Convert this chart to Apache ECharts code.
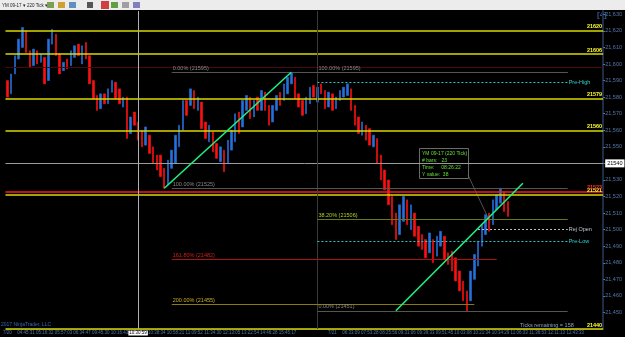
<!DOCTYPE html>
<html>
<head>
<meta charset="utf-8">
<script src="https://cdn.jsdelivr.net/npm/echarts/dist/echarts.min.js"></script>
<style>
  html, body { margin: 0; padding: 0; background: #000; }
  #chart { width: 625px; height: 337px; }
</style>
</head>
<body>
<div id="chart"></div>
<script>
// YM 09-17 (220 Tick) - bar opens / closes
const opens = [
  21590, 21582, 21594, 21603, 21610, 21620, 21608, 21599, 21608, 21601,
  21604, 21590, 21612, 21618, 21606, 21596, 21603, 21599, 21604, 21612,
  21600, 21613, 21605, 21590, 21581, 21573, 21582, 21576, 21583, 21589,
  21585, 21574, 21580, 21558, 21571, 21565, 21560, 21551, 21557, 21550,
  21545, 21545, 21537, 21527, 21537, 21540, 21550, 21560, 21578, 21575,
  21584, 21572, 21577, 21565, 21553, 21559, 21552, 21541, 21548, 21540,
  21548, 21553, 21571, 21562, 21572, 21580, 21568, 21580, 21572, 21583,
  21575, 21565, 21572, 21583, 21578, 21582, 21588, 21592, 21582, 21578,
  21570, 21576, 21587, 21577, 21588, 21584, 21574, 21582, 21573, 21578,
  21580, 21581, 21585, 21575, 21568, 21557, 21563, 21561, 21550, 21555,
  21545, 21536, 21530, 21520, 21510, 21497, 21505, 21518, 21500, 21510,
  21502, 21497, 21494, 21486, 21494, 21484, 21490, 21496, 21486, 21487,
  21483, 21475, 21469, 21463, 21457, 21470, 21478, 21490, 21497, 21510,
  21503, 21512, 21516, 21523, 21517
];
const closes = [
  21580, 21594, 21605, 21615, 21622, 21607, 21598, 21609, 21600, 21606,
  21588, 21615, 21621, 21605, 21594, 21601, 21597, 21608, 21611, 21605,
  21611, 21603, 21588, 21579, 21572, 21582, 21576, 21585, 21590, 21579,
  21576, 21580, 21555, 21568, 21563, 21554, 21550, 21562, 21546, 21540,
  21536, 21532, 21525, 21542, 21548, 21557, 21563, 21578, 21569, 21585,
  21573, 21580, 21561, 21555, 21563, 21547, 21543, 21550, 21535, 21554,
  21560, 21570, 21558, 21578, 21581, 21567, 21578, 21572, 21584, 21572,
  21563, 21575, 21581, 21575, 21588, 21592, 21595, 21579, 21574, 21569,
  21580, 21586, 21580, 21586, 21582, 21573, 21583, 21572, 21580, 21584,
  21586, 21588, 21572, 21563, 21558, 21565, 21554, 21551, 21557, 21540,
  21530, 21524, 21515, 21503, 21494, 21515, 21520, 21503, 21515, 21496,
  21490, 21488, 21483, 21498, 21480, 21496, 21499, 21482, 21479, 21475,
  21469, 21463, 21457, 21451, 21475, 21485, 21493, 21503, 21509, 21499,
  21518, 21521, 21525, 21511, 21508
];
// time axis labels: first session every LABEL_STEP bars from bar 0,
// second session every LABEL_STEP bars from the date label
const tickLabels = [
  '7/20', '04:45:31', '05:16:32', '05:57:03', '06:34:47', '09:45:30', '10:16:43',
  '10:30:59', '10:38:34', '10:58:21', '11:09:52', '11:34:30', '12:13:05',
  '13:22:54', '14:46:28', '15:45:17', '7/21', '06:33:09', '07:53:28',
  '08:25:56', '09:31:06', '09:39:33', '09:51:45', '10:03:08', '10:21:34',
  '10:34:29', '11:06:33', '11:36:53', '12:11:13', '12:43:33'
];
const SLOTS = 160;
const LABEL_STEP = 5;
const dateLabelIndex = 16;
const dateLabelBar = 87;
const crosshairBar = 35;
const sessionBar = 83;

// horizontal price levels
const yellowLevels = [21620, 21606, 21579, 21560, 21521, 21440];
const redLevel = 21523;
const darkRedLevel = 21598;
const grayLevel = 21540;
const axisMarker = 21505;

// fibonacci drawings: [label, price]
const fibA = [['0.00%', 21595], ['100.00%', 21525], ['161.80%', 21482], ['200.00%', 21455]];
const fibAStart = 44;
const fibB = [['100.00%', 21595], ['38.20%', 21506], ['0.00%', 21451]];
const fibBStart = 83;
const fibEnd = 150;
const preHigh = 21589, preLow = 21493, rejOpen = 21500;

// trend lines [barIndex, price]
const trend1 = [[42, 21525], [76, 21595]];
const trend2 = [[104, 21451], [138, 21528]];

const categories = new Array(SLOTS).fill('');
tickLabels.forEach((t, k) => {
  const bar = k < dateLabelIndex ? k * LABEL_STEP : dateLabelBar + (k - dateLabelIndex) * LABEL_STEP;
  if (bar < SLOTS) categories[bar] = t;
});
const bars = opens.map((o, i) => {
  const c = closes[i];
  return [o, c, Math.min(o, c), Math.max(o, c)];
});

const FONT = 'Liberation Sans';
const tiny = { fontFamily: FONT, fontSize: 5.5 };

const lines = [];
yellowLevels.forEach(v => lines.push({
  yAxis: v,
  lineStyle: { color: '#d9d900', width: 1.6, type: 'solid' },
  label: { show: true, position: 'insideEndTop', formatter: String(v), color: '#ffff33', fontWeight: 'bold', distance: 1, ...tiny }
}));
lines.push({
  yAxis: redLevel,
  lineStyle: { color: '#ff1a1a', width: 1.6, type: 'solid' },
  label: { show: true, position: 'insideEndTop', formatter: String(redLevel), color: '#ff3030', fontWeight: 'bold', distance: 1, ...tiny }
});
lines.push({ yAxis: darkRedLevel, lineStyle: { color: '#4a0808', width: 1, type: 'solid' }, label: { show: false } });
lines.push({
  yAxis: grayLevel,
  lineStyle: { color: '#9a9a9a', width: 1, type: 'solid' },
  label: { show: true, position: 'end', formatter: String(grayLevel), color: '#000', backgroundColor: '#ffffff', padding: [1, 2], distance: 2, ...tiny }
});
lines.push({
  yAxis: axisMarker,
  lineStyle: { opacity: 0 },
  label: { show: true, position: 'end', formatter: String(axisMarker), color: '#000', backgroundColor: '#f0a020', padding: [1, 2], distance: 2, ...tiny }
});
lines.push({ xAxis: crosshairBar, lineStyle: { color: '#b0b0b0', width: 1, type: 'solid' }, label: { show: false } });
lines.push({ xAxis: sessionBar, lineStyle: { color: '#3a3a3a', width: 1, type: 'solid' }, label: { show: false } });

function seg(x0, x1, v, style, text, labelColor, pos) {
  lines.push([
    {
      coord: [x0, v], lineStyle: style,
      label: text ? { show: true, position: pos || 'insideStartTop', formatter: text, color: labelColor, distance: 1, ...tiny } : { show: false }
    },
    { coord: [x1, v] }
  ]);
}
const fibColorsA = ['#555555', '#555555', '#b01010', '#8a7a10'];
const fibLabelA = ['#888888', '#888888', '#d02020', '#c8b020'];
fibA.forEach(([t, v], k) => {
  const end = k === 2 ? 131 : (k === 3 ? 125 : fibEnd);
  seg(fibAStart, end, v, { color: fibColorsA[k], width: 1.2, type: 'solid' }, t + ' (' + v + ')', fibLabelA[k]);
});
const fibColorsB = ['#555555', '#6a7a10', '#555555'];
const fibLabelB = ['#888888', '#b0d020', '#888888'];
fibB.forEach(([t, v], k) => {
  seg(fibBStart, fibEnd, v, { color: fibColorsB[k], width: 1.2, type: 'solid' }, t + ' (' + v + ')', fibLabelB[k]);
});
seg(fibBStart, fibEnd, preHigh, { color: '#20c8c8', width: 1, type: [2, 2] }, 'Pre-High', '#30d0d0', 'end');
seg(fibBStart, fibEnd, preLow, { color: '#20c8c8', width: 1, type: [2, 2] }, 'Pre-Low', '#30d0d0', 'end');
seg(126, fibEnd, rejOpen, { color: '#c0c0c0', width: 1, type: [2, 2] }, 'Rej Open', '#c0c8d0', 'end');

[trend1, trend2].forEach(t => lines.push([
  { coord: t[0], lineStyle: { color: '#20f080', width: 1.6, type: 'solid' }, label: { show: false } },
  { coord: t[1] }
]));

const chart = echarts.init(document.getElementById('chart'));
chart.setOption({
  animation: false,
  backgroundColor: '#000',
  grid: { left: 0, right: 18, top: 11, bottom: 8 },
  xAxis: {
    type: 'category',
    data: categories,
    boundaryGap: true,
    axisLine: { show: true, lineStyle: { color: '#1e2c44' } },
    axisTick: { show: false },
    axisLabel: {
      interval: 0, margin: 1.5, color: '#5577aa', fontFamily: FONT, fontSize: 4.5,
      formatter: (v) => v === tickLabels[7] ? '{hl|' + v + '}' : v,
      rich: { hl: { backgroundColor: '#ffffff', color: '#000', padding: [0, 1], fontFamily: FONT, fontSize: 4.5 } }
    },
    splitLine: { show: false }
  },
  yAxis: {
    type: 'value',
    position: 'right',
    min: 21440,
    max: 21632,
    interval: 10,
    axisLine: { show: true, lineStyle: { color: '#1e2c44', width: 2 } },
    axisTick: { show: true, length: 2, lineStyle: { color: '#5577aa' } },
    axisLabel: { color: '#5577aa', margin: 2, showMinLabel: false, showMaxLabel: false, ...tiny },
    splitLine: { show: false }
  },
  series: [{
    type: 'candlestick',
    data: bars,
    barWidth: 2,
    itemStyle: { color: '#2470dc', color0: '#ff1010', borderColor: '#2470dc', borderColor0: '#ff1010', borderWidth: 0.6 },
    markLine: { silent: true, symbol: ['none', 'none'], animation: false, data: lines }
  }],
  graphic: [
    // toolbar
    { type: 'rect', left: 0, top: 0, shape: { width: 625, height: 10 }, style: { fill: '#ececec' } },
    { type: 'text', left: 2, top: 3, style: { text: 'YM 09-17 ▾ 220 Tick ▾', fill: '#222', font: '4.5px ' + FONT } },
    { type: 'rect', left: 47, top: 2, shape: { width: 7, height: 6 }, style: { fill: '#7aa050' } },
    { type: 'rect', left: 58, top: 2, shape: { width: 7, height: 6 }, style: { fill: '#d0a030' } },
    { type: 'rect', left: 69, top: 2, shape: { width: 7, height: 6 }, style: { fill: '#6090c0' } },
    { type: 'rect', left: 87, top: 2, shape: { width: 6, height: 6 }, style: { fill: '#555' } },
    { type: 'rect', left: 101, top: 1, shape: { width: 8, height: 8 }, style: { fill: '#d04040' } },
    { type: 'rect', left: 111, top: 2, shape: { width: 7, height: 6 }, style: { fill: '#60a040' } },
    { type: 'rect', left: 122, top: 2, shape: { width: 7, height: 6 }, style: { fill: '#a0a0a0' } },
    { type: 'rect', left: 133, top: 2, shape: { width: 7, height: 6 }, style: { fill: '#8080c0' } },
    { type: 'text', left: 597, top: 11, style: { text: '[4]', fill: '#3a5a8a', font: 'bold 8px ' + FONT } },
    // data box
    { type: 'rect', left: 419, top: 148, shape: { width: 49, height: 30 }, style: { fill: '#000', stroke: '#6a6a6a', lineWidth: 1 } },
    { type: 'text', left: 422, top: 150, style: { text: 'YM 09-17 (220 Tick)\n# bars:   23\nTime:     08:26:22\nY value:  38', fill: '#66e033', font: '5px ' + FONT, lineHeight: 7 } },
    { type: 'line', shape: { x1: 468, y1: 175, x2: 490, y2: 222 }, style: { stroke: '#666', lineWidth: 0.8 } },
    // footer
    { type: 'text', left: 1, top: 322, style: { text: '2017 NinjaTrader, LLC', fill: '#3a66b0', font: '5px ' + FONT } },
    { type: 'text', left: 520, top: 322, style: { text: 'Ticks remaining = 158', fill: '#8aa0c8', font: '5.5px ' + FONT } }
  ]
});
</script>
</body>
</html>
